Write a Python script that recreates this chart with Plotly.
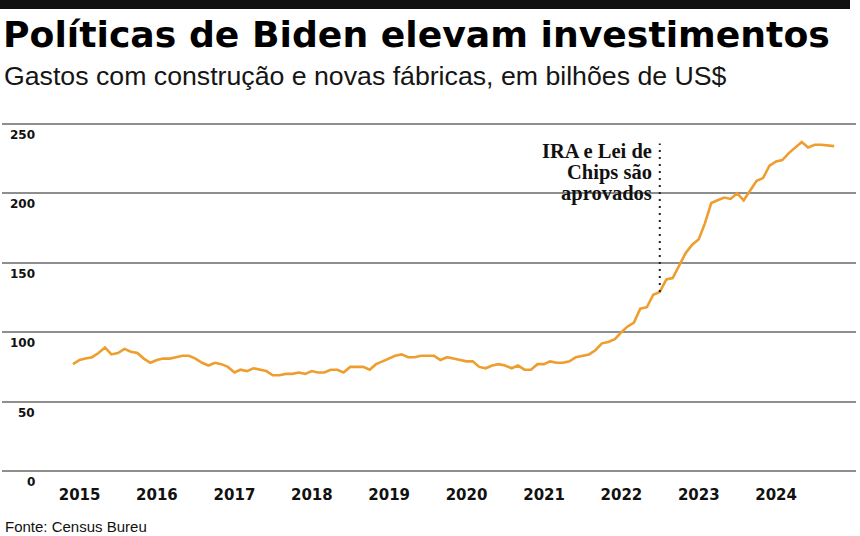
import pandas as pd
import plotly.graph_objects as go

# ---------------- data ----------------
start_month = "2015-01-01"
spending = [
    77, 80, 81, 82, 85, 89, 84, 85, 88, 86,
    85, 81, 78, 80, 81, 81, 82, 83, 83, 81,
    78, 76, 78, 77, 75, 71, 73, 72, 74, 73,
    72, 69, 69, 70, 70, 71, 70, 72, 71, 71,
    73, 73, 71, 75, 75, 75, 73, 77, 79, 81,
    83, 84, 82, 82, 83, 83, 83, 80, 82, 81,
    80, 79, 79, 75, 74, 76, 77, 76, 74, 76,
    73, 73, 77, 77, 79, 78, 78, 79, 82, 83,
    84, 87, 92, 93, 95, 100, 104, 107, 117, 118,
    127, 129, 138, 139, 148, 157, 163, 167, 178, 193,
    195, 197, 196, 200, 195, 202, 209, 211, 220, 223,
    224, 229, 233, 237, 233, 235, 235, 234.5, 234,
]
years = [2015, 2016, 2017, 2018, 2019, 2020, 2021, 2022, 2023, 2024]
y_ticks = [0, 50, 100, 150, 200, 250]
event_month = "2022-08-01"
event_lines = ["IRA e Lei de", "Chips são", "aprovados"]
title = "Políticas de Biden elevam investimentos"
subtitle = "Gastos com construção e novas fábricas, em bilhões de US$"
source = "Fonte: Census Bureu"

months = pd.date_range(start_month, periods=len(spending), freq="MS")
event_idx = list(months).index(pd.Timestamp(event_month))

# ---------------- layout geometry (pixels) ----------------
W_FIG, H_FIG = 860, 536
L, R, T, B = 2, 856, 117, 478


def px_x(px):
    return (px - L) / (R - L)


def px_y(py):
    return (B - py) / (B - T)


LINE_COLOR = "#EE9E2E"
GRID_COLOR = "#8E8E8E"

fig = go.Figure()
fig.add_trace(go.Scatter(
    x=months, y=spending, mode="lines",
    line=dict(color=LINE_COLOR, width=2.6),
    hoverinfo="skip", showlegend=False,
))

annotations = []
# y tick labels below grid lines
for v in y_ticks:
    annotations.append(dict(
        xref="paper", yref="y", x=px_x(37), y=v, xanchor="right", yanchor="middle",
        yshift=-11, showarrow=False, text=f"<b>{v}</b>",
        font=dict(family="DejaVu Sans", size=12, color="#111111"),
    ))

# title / subtitle / source
annotations.append(dict(
    xref="paper", yref="paper", x=px_x(1), y=px_y(34.5), xanchor="left", yanchor="middle",
    showarrow=False, text=f"<b>{title}</b>",
    font=dict(family="DejaVu Sans", size=36.2, color="#000000"),
))
annotations.append(dict(
    xref="paper", yref="paper", x=px_x(2), y=px_y(76), xanchor="left", yanchor="middle",
    showarrow=False, text=subtitle,
    font=dict(family="Liberation Sans, Arial, sans-serif", size=26.7, color="#151515"),
))
annotations.append(dict(
    xref="paper", yref="paper", x=px_x(3), y=px_y(526), xanchor="left", yanchor="middle",
    showarrow=False, text=source,
    font=dict(family="Liberation Sans, Arial, sans-serif", size=15, color="#111111"),
))

# event annotation
for i, line_txt in enumerate(event_lines):
    annotations.append(dict(
        xref="x", yref="paper", x=months[event_idx], y=px_y(151 + 21 * i),
        xanchor="right", yanchor="middle", xshift=-6, showarrow=False,
        text=f"<b>{line_txt}</b>",
        font=dict(family="Liberation Serif, serif", size=20.5, color="#111111"),
    ))

shapes = [
    # top black bar
    dict(type="rect", xref="paper", yref="paper", x0=px_x(0), x1=px_x(850),
         y0=px_y(0), y1=px_y(9), fillcolor="#111111", line=dict(width=0), layer="above"),
    # dotted event line
    dict(type="line", xref="x", yref="y", x0=months[event_idx], x1=months[event_idx],
         y0=spending[event_idx], y1=236, line=dict(color="#222222", width=2, dash="2px,5px")),
]

# x range: 2015-01 at px 73, 77.4 px per year
px_per_day = 77.4 / 365.25
x0 = pd.Timestamp(start_month) - pd.Timedelta(days=(73 - L) / px_per_day)
x1 = pd.Timestamp(start_month) + pd.Timedelta(days=(R - 73) / px_per_day)

fig.update_layout(
    width=W_FIG, height=H_FIG,
    margin=dict(l=L, r=W_FIG - R, t=T, b=H_FIG - B, pad=0),
    paper_bgcolor="white", plot_bgcolor="white",
    xaxis=dict(
        type="date", range=[x0, x1], showgrid=False, zeroline=False, showline=False,
        tickvals=[pd.Timestamp(f"{y}-02-01") for y in years],
        ticktext=[f"<b>{y}</b>" for y in years],
        ticks="", tickfont=dict(family="DejaVu Sans", size=15, color="#111111"),
        ticklabelstandoff=6,
    ),
    yaxis=dict(
        range=[-5, 255], tickvals=y_ticks, showticklabels=False, ticks="",
        showgrid=True, gridcolor=GRID_COLOR, gridwidth=2, zeroline=False, showline=False,
    ),
    annotations=annotations,
    shapes=shapes,
    showlegend=False,
)

fig.write_html(
    "out.html",
    config={"displayModeBar": False},
    post_script="document.body.style.margin='0';document.body.style.overflow='hidden';",
)
